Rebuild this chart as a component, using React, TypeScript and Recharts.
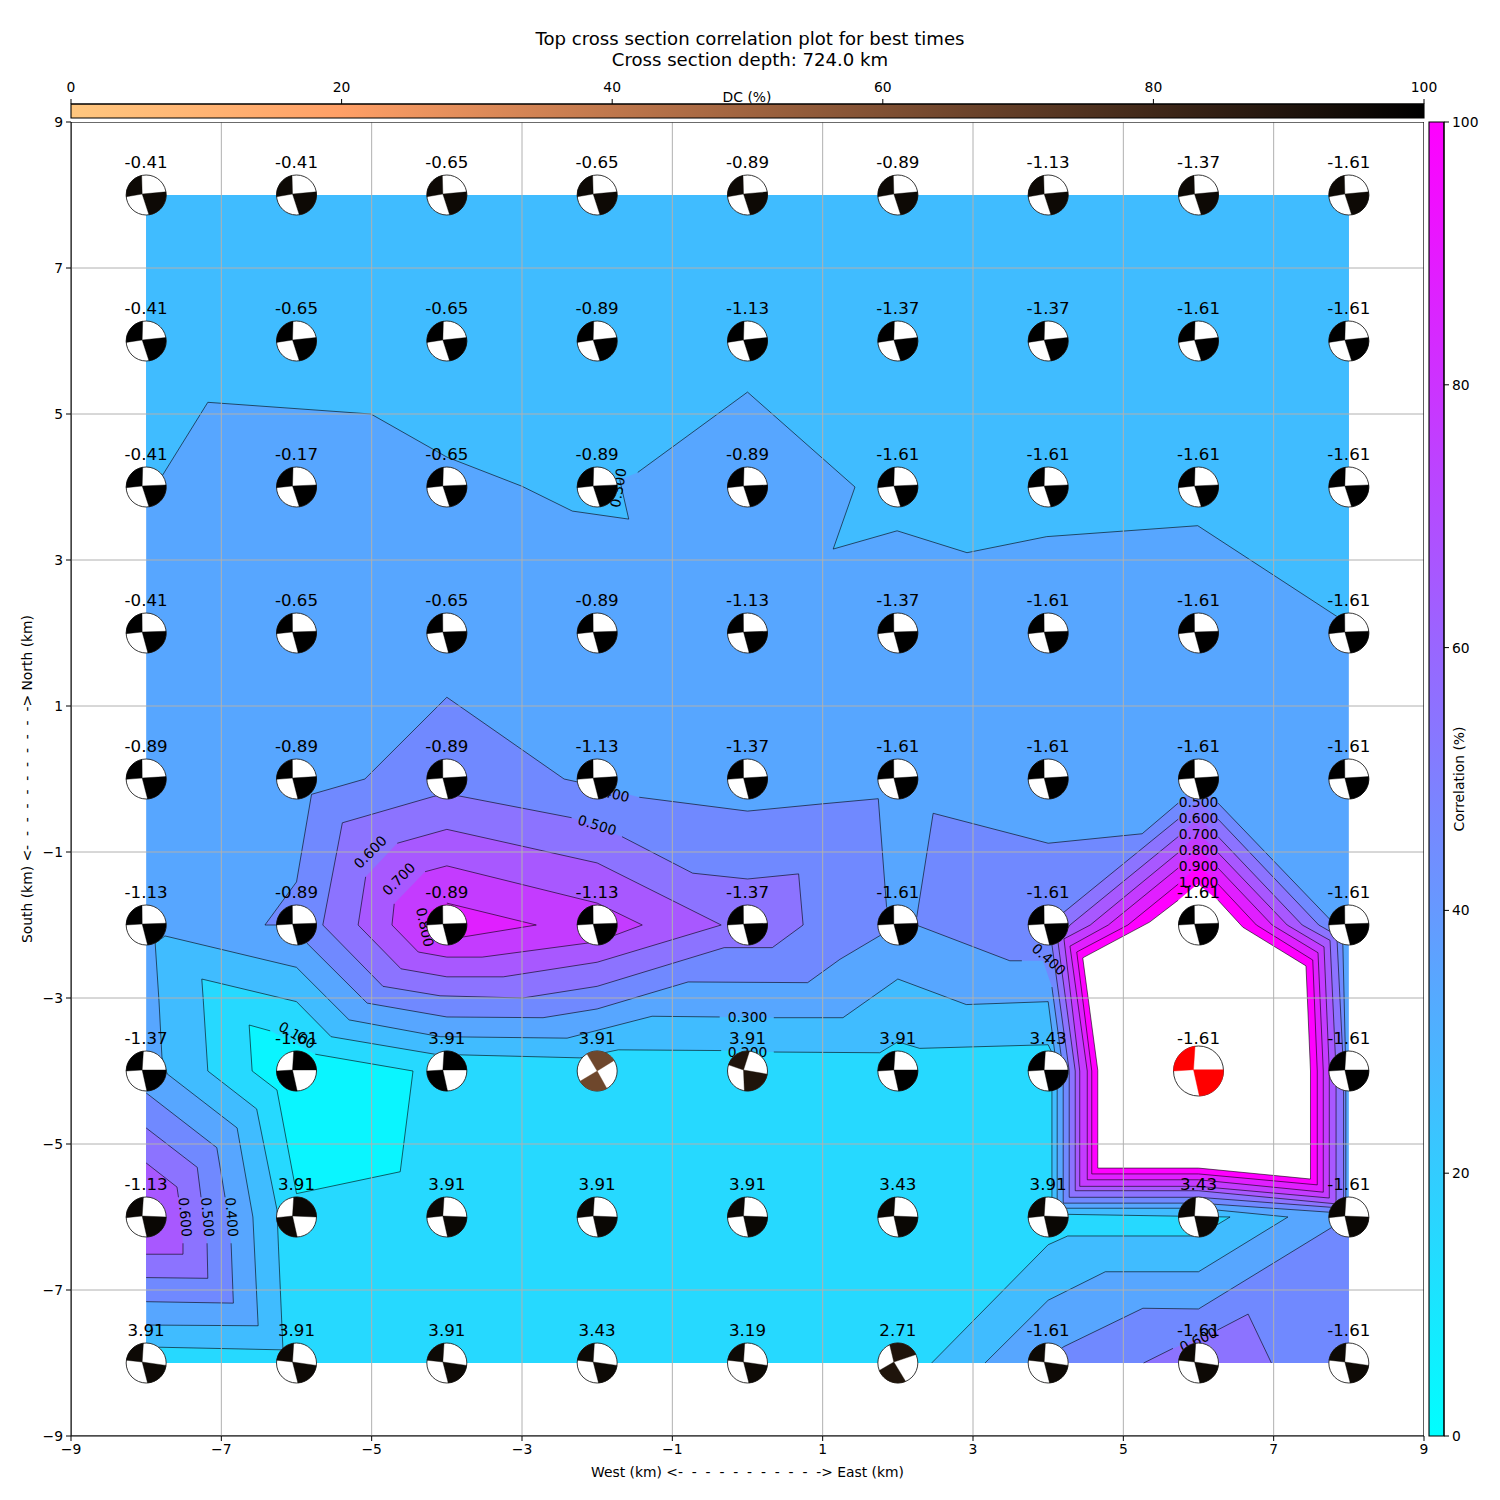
import React from "react";
import { ScatterChart, Scatter, BarChart, Bar, XAxis, YAxis } from "recharts";

type P = number[];

const FONT = "'DejaVu Sans', sans-serif";

const xTicks = [-9, -7, -5, -3, -1, 1, 3, 5, 7, 9];
const yTicks = [-9, -7, -5, -3, -1, 1, 3, 5, 7, 9];
const colorTicks = [0, 20, 40, 60, 80, 100];

const gridX = [-8, -6, -4, -2, 0, 2, 4, 6, 8];
const gridY = [8, 6, 4, 2, 0, -2, -4, -6, -8];

// number printed above each beachball, one row per gridY
const ballLabels = [
  ["-0.41", "-0.41", "-0.65", "-0.65", "-0.89", "-0.89", "-1.13", "-1.37", "-1.61"],
  ["-0.41", "-0.65", "-0.65", "-0.89", "-1.13", "-1.37", "-1.37", "-1.61", "-1.61"],
  ["-0.41", "-0.17", "-0.65", "-0.89", "-0.89", "-1.61", "-1.61", "-1.61", "-1.61"],
  ["-0.41", "-0.65", "-0.65", "-0.89", "-1.13", "-1.37", "-1.61", "-1.61", "-1.61"],
  ["-0.89", "-0.89", "-0.89", "-1.13", "-1.37", "-1.61", "-1.61", "-1.61", "-1.61"],
  ["-1.13", "-0.89", "-0.89", "-1.13", "-1.37", "-1.61", "-1.61", "-1.61", "-1.61"],
  ["-1.37", "-1.61", "3.91", "3.91", "3.91", "3.91", "3.43", "-1.61", "-1.61"],
  ["-1.13", "3.91", "3.91", "3.91", "3.91", "3.43", "3.91", "3.43", "-1.61"],
  ["3.91", "3.91", "3.91", "3.43", "3.19", "2.71", "-1.61", "-1.61", "-1.61"],
];

// nodal plane ends, degrees clockwise from north: top, right, bottom, left
const rowPlanes = [
  [-13, 81, 172, 265],
  [-10, 80, 172, 266],
  [-10, 84, 172, 268],
  [-12, 85, 175, 268],
  [-12, 83, 176, 269],
  [-12, 85, 176, 270],
  [-8, 87, 178, 270],
  [-8, 90, 178, 268],
  [-8, 97, 176, 278],
];
const rowColors = ["#0d0905", "#000000", "#000000", "#000000", "#000000", "#000000", "#000000", "#0a0704", "#0d0905"];

// balls whose dark quadrants are NE/SW instead of NW/SE
const flippedBalls = ["-6,-4", "-4,-4", "-6,-6"];
const specialPlanes: Record<string, number[]> = {
  "-2,-4": [-31, 58, 151, 239],
  "0,-4": [6, 99, 189, 288],
  "2,-8": [-24, 65, 157, 248],
};
const specialColors: Record<string, string> = {
  "-2,-4": "#6e472c",
  "0,-4": "#1f140b",
  "2,-8": "#1f140b",
  "6,-4": "#ff0000",
};
const bestBall = "6,-4";

const balls = gridY.flatMap((y, r) =>
  gridX.map((x, c) => {
    const id = `${x},${y}`;
    return {
      x,
      y,
      label: ballLabels[r][c],
      planes: specialPlanes[id] ?? rowPlanes[r],
      color: specialColors[id] ?? rowColors[r],
      flipped: flippedBalls.includes(id) || id === "-2,-4" || id === "2,-8",
      big: id === bestBall,
      centered: id === "-2,-4",
    };
  })
);

// Contour outlines: [x, y] and a third value 1 when the next edge is hidden by a label
const domainRect: P[] = [[-8, -8], [-8, 8], [8, 8], [8, -8]];

const below03Top: P[] = [
  [-8, 8], [8, 8], [8, 2.12], [5.99, 3.47], [3.98, 3.32], [2.92, 3.1], [1.99, 3.4], [1.14, 3.15], [1.43, 4], [0, 5.3],
  [-1.46, 4.2, 1], [-1.7, 4.1], [-1.58, 3.56], [-2.33, 3.67], [-3, 4.01], [-4, 4.41], [-5.01, 5], [-7.18, 5.16], [-8, 3.8],
];
const below03Low: P[] = [
  [-8, -8], [-8, -7.48], [-6.51, -7.49], [-6.58, -6], [-6.79, -4.78], [-7.72, -4.04], [-7.79, -3.81], [-7.83, -3.03],
  [-7.88, -2.25], [-7.75, -2.15], [-6, -2.58], [-5.3, -3.3], [-4.09, -3.53], [-2.4, -3.55], [-1.27, -3.25],
  [-0.37, -3.26, 1], [0.35, -3.27], [1.27, -3.27], [2, -2.74], [2.91, -3.09], [4, -3.05], [4.12, -4], [4.12, -5.88],
  [6, -5.88], [7.19, -6], [6, -6.75], [4.76, -6.75], [4, -7.14], [3.16, -8],
];
const below02: P[] = [
  [-8, -8], [-8, -7.78], [-6.18, -7.82], [-6.24, -6.41], [-6.26, -5.9], [-6.53, -4.52], [-7.18, -4], [-7.24, -3.03],
  [-7.26, -2.74], [-6, -3.05], [-5.54, -3.53], [-4.16, -3.77], [-2.23, -3.82], [-1.72, -3.71], [-0.35, -3.72, 1],
  [0.35, -3.74], [1.76, -3.75], [2, -3.6], [2.29, -3.69], [4, -3.64], [4.05, -3.75], [4.05, -5.96], [6.42, -6],
  [6, -6.26], [4.26, -6.26], [4, -6.38], [2.45, -8],
];
const below01: P[] = [
  [-6.63, -3.37], [-6.35, -3.45, 1], [-5.75, -3.77], [-4.45, -4], [-4.62, -5.38], [-6, -5.68], [-6.26, -4.26], [-6.59, -4],
];

const above04Center: P[] = [
  [-6.42, -2], [-6, -1.41], [-5.8, -0.21], [-5.09, 0], [-4, 1.12], [-2.44, 0], [-2, -0.1, 1], [-1.44, -0.25], [0, -0.44],
  [1, -0.34], [1.74, -0.27], [1.85, -1.75], [2, -2], [1.23, -2.47], [0.8, -2.79], [-0.79, -2.78], [-2, -3.15],
  [-2.72, -3.27], [-4, -3.26], [-5.06, -3.07], [-5.86, -2.25], [-6, -2],
];
const above04Right: P[] = [
  [2.25, -1.9], [2.47, -0.47], [4, -0.88], [5.25, -0.75], [5.73, -0.33, 1], [6, -0.07, 1], [6.26, -0.33], [7.82, -2],
  [7.92, -2.25], [7.96, -4], [7.96, -5.95], [6, -5.81], [4.2, -5.81], [4.2, -4], [4.05, -2.85, 1], [3.93, -2.49, 1],
  [3.65, -2.49], [3.49, -2.49], [2.27, -2.01], [2, -2],
];
const above04Left: P[] = [
  [-8, -4.3], [-7.06, -5.05], [-6.95, -5.73, 1], [-6.87, -6.36], [-6.84, -7.18], [-8, -7.16],
];
const above04Bottom: P[] = [
  [4, -8], [4.2, -7.78], [5.26, -7.25], [6, -7.26], [8, -6], [8, -8],
];

const above05Center: P[] = [
  [-5.65, -2], [-5.39, -0.6], [-4.18, -0.24], [-4, -0.2], [-2.34, -0.53, 1], [-1.67, -0.79], [-0.73, -1.29], [0, -1.37],
  [0.68, -1.3], [0.74, -2], [0.33, -2.31], [-0.31, -2.31], [-2, -2.84], [-2.99, -3], [-4.09, -2.97], [-4.85, -2.84],
];
const above05Right: P[] = [
  [4, -2], [5.73, -0.55, 1], [6, -0.29, 1], [6.26, -0.55], [7.6, -2], [7.84, -2.14], [7.93, -4], [7.93, -5.88], [6, -5.73],
  [4.28, -5.73], [4.28, -4], [4.05, -2.27],
];
const above05Left: P[] = [
  [-8, -4.78], [-7.32, -5.32], [-7.27, -5.73, 1], [-7.19, -6.36], [-7.18, -6.84], [-8, -6.83],
];
const above05Bottom: P[] = [
  [5.27, -8], [5.66, -7.8, 1], [6.25, -7.55], [6.66, -7.33], [6.97, -8],
];

const above06Center: P[] = [
  [-5.18, -2], [-5.08, -1.34, 1], [-4.66, -0.88], [-4, -0.69], [-2, -1.15], [-0.35, -2], [-2, -2.51], [-3.25, -2.71],
  [-4, -2.71], [-4.61, -2.6],
];
const above06Right: P[] = [
  [4.29, -2], [5.73, -0.79, 1], [6, -0.52, 1], [6.26, -0.79], [7.38, -2], [7.75, -2.21], [7.83, -4], [7.83, -5.82],
  [6, -5.64], [4.36, -5.64], [4.36, -4], [4.13, -2.23],
];
const above06Left: P[] = [
  [-8, -5.26], [-7.59, -5.59], [-7.57, -5.73, 1], [-7.51, -6.36], [-7.51, -6.51], [-8, -6.51],
];

const above07Center: P[] = [
  [-4.73, -2], [-4.7, -1.71, 1], [-4.29, -1.27], [-4, -1.19], [-2, -1.7], [-1.4, -2], [-2, -2.23], [-3.53, -2.44],
  [-4, -2.44], [-4.38, -2.37],
];
const above07Right: P[] = [
  [4.56, -2], [5.73, -1.01, 1], [6, -0.74, 1], [6.26, -1.01], [7.18, -2], [7.67, -2.3], [7.74, -4], [7.74, -5.74],
  [6, -5.58], [4.42, -5.58], [4.42, -4], [4.21, -2.19],
];

const above08Center: P[] = [
  [-4, -1.7], [-2.81, -2], [-3.76, -2.16], [-4, -2.2, 1], [-4.3, -2, 1], [-4.25, -1.8, 1],
];
const above08Right: P[] = [
  [4.8, -2], [5.73, -1.22, 1], [6, -0.96, 1], [6.26, -1.22], [6.98, -2], [7.59, -2.38], [7.66, -4], [7.66, -5.66],
  [6, -5.49], [4.52, -5.49], [4.52, -4], [4.29, -2.29],
];

const above09Right: P[] = [
  [5.06, -2], [5.73, -1.44, 1], [6, -1.18, 1], [6.26, -1.44], [6.77, -2], [7.52, -2.48], [7.58, -4], [7.58, -5.56],
  [6, -5.41], [4.58, -5.41], [4.58, -4], [4.38, -2.37],
];

const above10Hole: P[] = [
  [5.35, -1.96], [5.73, -1.66, 1], [5.99, -1.44, 1], [6.26, -1.66], [6.59, -2.03], [7.43, -2.56], [7.49, -4], [7.49, -5.48],
  [6, -5.33], [4.66, -5.33], [4.66, -3.99], [4.46, -2.45],
];

const regions: [P[], string][] = [
  [domainRect, "#57a6ff"],
  [below03Top, "#40bcff"],
  [below03Low, "#40bcff"],
  [below02, "#26d9ff"],
  [below01, "#0af5ff"],
  [above04Center, "#7089ff"],
  [above04Right, "#7089ff"],
  [above04Left, "#7089ff"],
  [above04Bottom, "#7089ff"],
  [above05Center, "#8c73ff"],
  [above05Right, "#8c73ff"],
  [above05Left, "#8c73ff"],
  [above05Bottom, "#8c73ff"],
  [above06Center, "#a858ff"],
  [above06Right, "#a858ff"],
  [above06Left, "#a858ff"],
  [above07Center, "#c43bff"],
  [above07Right, "#c43bff"],
  [above08Center, "#e01fff"],
  [above08Right, "#e01fff"],
  [above09Right, "#ff00ff"],
  [above10Hole, "#ffffff"],
];

const contourText = [
  "0.300", "0.200", "0.500", "0.400", "0.600", "0.700", "0.800", "0.100", "0.600", "0.500", "0.400", "0.400",
  "0.500", "0.600", "0.700", "0.800", "0.900", "1.000", "0.600", "0.300",
];
const contourX = [0, 0, -2, -1.83, -5.02, -4.64, -4.29, -5.99, -7.48, -7.18, -6.86, 4.01, 6, 6, 6, 6, 6, 6, 6, -1.72];
const contourY = [-3.26, -3.74, -0.63, -0.19, -1, -1.37, -2.03, -3.51, -6, -6, -6, -2.47, -0.32, -0.53, -0.75, -0.97, -1.19, -1.41, -7.68, 3.99];
const contourAngle = [0, 0, 17, 13, -45, -45, 78, 30, 85, 85, 85, 42, 0, 0, 0, 0, 0, 0, -25, -80];
const contourLabels = contourText.map((text, i) => ({ x: contourX[i], y: contourY[i], text, angle: contourAngle[i] }));

const colorBarData = [{ name: "scale", value: 100 }];
const copperStops = ["#ffc77f", "#ff9f66", "#bf774c", "#805033", "#402819", "#000000"];

const noDot = () => <g />;
const minus = (v: number) => String(v).replace("-", "\u2212");

function regionSeries(poly: P[], fill: string, key: number) {
  const data = poly.map((p) => ({ x: p[0], y: p[1] }));
  const renderLine = (props: any) => {
    const pts = props.points;
    const area = pts.map((p: any, i: number) => `${i ? "L" : "M"}${p.x},${p.y}`).join("") + "Z";
    let edges = "";
    poly.forEach((a, i) => {
      const j = (i + 1) % poly.length;
      const b = poly[j];
      const onEdge = (Math.abs(a[0]) === 8 && a[0] === b[0]) || (Math.abs(a[1]) === 8 && a[1] === b[1]);
      if (a[2] || onEdge) return;
      edges += `M${pts[i].x},${pts[i].y}L${pts[j].x},${pts[j].y}`;
    });
    return (
      <g>
        <path d={area} fill={fill} stroke="none" />
        <path d={edges} fill="none" stroke="#000" strokeWidth={0.7} strokeOpacity={0.85} />
      </g>
    );
  };
  return <Scatter key={key} data={data} line={renderLine} shape={noDot} isAnimationActive={false} />;
}

function lineSeries(data: { x: number; y: number }[], stroke: string, width: number, key: string) {
  return (
    <Scatter
      key={key}
      data={data}
      line={{ stroke, strokeWidth: width }}
      shape={noDot}
      isAnimationActive={false}
    />
  );
}

const ContourLabel = (props: any) => (
  <text
    x={props.cx}
    y={props.cy}
    transform={`rotate(${props.payload.angle} ${props.cx} ${props.cy})`}
    textAnchor="middle"
    dominantBaseline="central"
    fontSize={13.89}
    fontFamily={FONT}
    fill="#000"
  >
    {props.payload.text}
  </text>
);

const BeachBall = (props: any) => {
  const { cx, cy, payload } = props;
  const r = payload.big ? 25 : 20;
  const [top, right, bottom, left] = payload.planes;
  const k = r / 20;
  const jx = cx + (payload.centered ? 0 : -4 * k);
  const jy = cy + (payload.centered ? 0 : -1 * k);
  const edge = (deg: number) => {
    const a = (deg * Math.PI) / 180;
    return `${cx + r * Math.sin(a)},${cy - r * Math.cos(a)}`;
  };
  const wedge = (from: number, to: number) => `M${jx},${jy}L${edge(from)}A${r},${r} 0 0 1 ${edge(to)}Z`;
  const d = payload.flipped ? wedge(top, right) + wedge(bottom, left) : wedge(left, top) + wedge(right, bottom);
  return (
    <g>
      <circle cx={cx} cy={cy} r={r} fill="#fff" stroke="#222" strokeWidth={0.9} />
      <path d={d} fill={payload.color} stroke={payload.color} strokeWidth={0.4} />
      <text x={cx} y={cy - 27} textAnchor="middle" fontSize={16.67} fontFamily={FONT} fill="#000">
        {payload.label}
      </text>
    </g>
  );
};

const page: React.CSSProperties = { position: "absolute", left: 0, top: 0, width: 1500, height: 1500, background: "#fff", fontFamily: FONT, color: "#000", overflow: "hidden" };
const layer: React.CSSProperties = { position: "absolute", left: 0, top: 0 };
const tickStyle = { fontSize: 13.89, fill: "#000", fontFamily: FONT };

const note = (text: string, x: number, y: number, size: number, rotate = 0) => (
  <div
    style={{
      position: "absolute",
      left: x,
      top: y,
      fontSize: size,
      lineHeight: 1,
      whiteSpace: "pre",
      transform: `translate(-50%, -50%) rotate(${rotate}deg)`,
    }}
  >
    {text}
  </div>
);

export default function App() {
  return (
    <div style={page}>
      <ScatterChart width={1500} height={1500} style={layer} margin={{ left: 31, right: 76, top: 122, bottom: 34 }}>
        <XAxis
          type="number"
          dataKey="x"
          domain={[-9, 9]}
          ticks={xTicks}
          interval={0}
          height={30}
          tickSize={5}
          tickMargin={3}
          tickFormatter={minus}
          tick={tickStyle}
          stroke="#000"
          allowDataOverflow
        />
        <YAxis
          type="number"
          dataKey="y"
          domain={[-9, 9]}
          ticks={yTicks}
          interval={0}
          width={40}
          tickSize={5}
          tickMargin={3}
          tickFormatter={minus}
          tick={tickStyle}
          stroke="#000"
          allowDataOverflow
        />
        {regions.map(([poly, fill], i) => regionSeries(poly, fill, i))}
        {xTicks.map((t) => lineSeries([{ x: t, y: -9 }, { x: t, y: 9 }], "#b0b0b0", 1, `gx${t}`))}
        {yTicks.map((t) => lineSeries([{ x: -9, y: t }, { x: 9, y: t }], "#b0b0b0", 1, `gy${t}`))}
        {lineSeries([{ x: -9, y: 9 }, { x: 9, y: 9 }, { x: 9, y: -9 }, { x: -9, y: -9 }, { x: -9, y: 9 }], "#000", 1.1, "frame")}
        <Scatter data={contourLabels} shape={ContourLabel} isAnimationActive={false} />
        <Scatter data={balls} shape={BeachBall} isAnimationActive={false} />
      </ScatterChart>

      <BarChart
        width={1500}
        height={1500}
        style={layer}
        layout="vertical"
        data={colorBarData}
        barCategoryGap={0}
        margin={{ left: 71, right: 76, top: 86, bottom: 1382 }}
      >
        <defs>
          <linearGradient id="copperBar" x1="0" y1="0" x2="1" y2="0">
            {copperStops.map((c, i) => (
              <stop key={c} offset={`${i * 20}%`} stopColor={c} />
            ))}
          </linearGradient>
        </defs>
        <XAxis
          type="number"
          orientation="top"
          domain={[0, 100]}
          ticks={colorTicks}
          interval={0}
          height={18}
          tickSize={5}
          tickMargin={7}
          tick={tickStyle}
          stroke="#000"
        />
        <YAxis type="category" dataKey="name" hide />
        <Bar dataKey="value" fill="url(#copperBar)" stroke="#000" strokeWidth={1.1} isAnimationActive={false} />
      </BarChart>

      <BarChart
        width={1500}
        height={1500}
        style={layer}
        data={colorBarData}
        barCategoryGap={0}
        margin={{ left: 1429, right: 16, top: 122, bottom: 64 }}
      >
        <defs>
          <linearGradient id="coolBar" x1="0" y1="1" x2="0" y2="0">
            <stop offset="0%" stopColor="#00ffff" />
            <stop offset="100%" stopColor="#ff00ff" />
          </linearGradient>
        </defs>
        <XAxis type="category" dataKey="name" hide />
        <YAxis
          type="number"
          orientation="right"
          domain={[0, 100]}
          ticks={colorTicks}
          interval={0}
          width={40}
          tickSize={5}
          tickMargin={3}
          tick={tickStyle}
          stroke="#000"
        />
        <Bar dataKey="value" fill="url(#coolBar)" stroke="#000" strokeWidth={1.1} isAnimationActive={false} />
      </BarChart>

      {note("Top cross section correlation plot for best times", 750, 39, 18.1)}
      {note("Cross section depth: 724.0 km", 750, 60, 18.1)}
      {note("DC (%)", 747, 98, 13.89)}
      {note("Correlation (%)", 1460, 779, 13.89, -90)}
      {note("West (km) <-  -  -  -  -  -  -  -  -  -  -> East (km)", 747.5, 1473, 13.89)}
      {note("South (km) <-  -  -  -  -  -  -  -  -  -  -> North (km)", 28, 779, 13.89, -90)}
    </div>
  );
}
